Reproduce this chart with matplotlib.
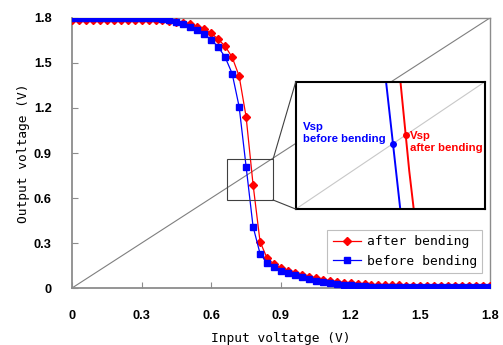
import numpy as np
import matplotlib
matplotlib.use("Agg")
import matplotlib.pyplot as plt
from matplotlib.patches import Rectangle
from matplotlib.lines import Line2D

# ---------------- data ----------------
vin = np.linspace(0, 1.8, 61)

before = [1.800, 1.800, 1.800, 1.800, 1.800, 1.800, 1.800, 1.800, 1.800, 1.800,
          1.800, 1.799, 1.798, 1.796, 1.787, 1.771, 1.760, 1.742, 1.720, 1.693,
          1.653, 1.607, 1.538, 1.429, 1.209, 0.810, 0.410, 0.230, 0.170, 0.140,
          0.115, 0.098, 0.085, 0.072, 0.060, 0.050, 0.042, 0.035, 0.028, 0.022,
          0.018, 0.015, 0.012, 0.010, 0.009, 0.008, 0.008, 0.007, 0.007, 0.007,
          0.006, 0.006, 0.006, 0.006, 0.005, 0.005, 0.005, 0.005, 0.005, 0.005,
          0.005]

after = [1.788, 1.788, 1.788, 1.788, 1.788, 1.788, 1.788, 1.788, 1.788, 1.788,
         1.788, 1.788, 1.787, 1.785, 1.781, 1.775, 1.769, 1.758, 1.742, 1.724,
         1.698, 1.658, 1.611, 1.538, 1.413, 1.142, 0.690, 0.310, 0.200, 0.160,
         0.135, 0.116, 0.100, 0.087, 0.075, 0.065, 0.056, 0.049, 0.042, 0.037,
         0.032, 0.028, 0.025, 0.022, 0.020, 0.019, 0.018, 0.018, 0.017, 0.017,
         0.017, 0.016, 0.016, 0.016, 0.016, 0.015, 0.015, 0.015, 0.015, 0.015,
         0.015]

ticks = [0, 0.3, 0.6, 0.9, 1.2, 1.5, 1.8]
tick_labels = ["0", "0.3", "0.6", "0.9", "1.2", "1.5", "1.8"]
series_labels = ["after bending", "before bending"]
inset_labels = ["Vsp\nbefore bending", "Vsp\nafter bending"]

zoom_x = (0.667, 0.866)
zoom_y = (0.587, 0.858)
inset_lim = (0.6, 0.9)


def vsp(x, y):
    x = np.asarray(x); y = np.asarray(y)
    d = y - x
    i = np.where((d[:-1] > 0) & (d[1:] <= 0))[0][0]
    t = d[i] / (d[i] - d[i + 1])
    return x[i] + t * (x[i + 1] - x[i])


RED = "#ff0000"
BLUE = "#0000ff"
GRAY = "#8c8c8c"
mono = "DejaVu Sans Mono"
tickfont = {"family": "Liberation Sans", "weight": "bold", "size": 9.2}

fig = plt.figure(figsize=(5.03, 3.45), dpi=100)
ax = fig.add_axes([0.143, 0.165, 0.831, 0.783])

ax.plot([0, 1.8], [0, 1.8], color="#7f7f7f", lw=0.8, zorder=1)
ax.plot(vin, after, color=RED, lw=0.9, marker="D", ms=4.2, mec=RED, mfc=RED,
        label=series_labels[0], zorder=3)
ax.plot(vin, before, color=BLUE, lw=0.9, marker="s", ms=4.6, mec=BLUE, mfc=BLUE,
        label=series_labels[1], zorder=4)

ax.set_xlim(0, 1.8)
ax.set_ylim(0, 1.8)
ax.set_xticks(ticks)
ax.set_yticks(ticks)
ax.set_xticklabels(tick_labels, fontdict=tickfont)
ax.set_yticklabels(tick_labels, fontdict=tickfont)
ax.tick_params(direction="in", length=4, width=0.8, color=GRAY, pad=14.5)
ax.tick_params(axis="x", pad=16)
for s in ax.spines.values():
    s.set_color(GRAY)
    s.set_linewidth(1.0)
for s in ("left", "bottom"):
    ax.spines[s].set_linewidth(1.3)

ax.set_xlabel("Input voltatge (V)", family=mono, fontsize=9.3, labelpad=7)
ax.set_ylabel("Output voltage (V)", family=mono, fontsize=9.3, labelpad=3)

leg = ax.legend(loc="lower right", bbox_to_anchor=(0.981, 0.055),
                prop={"family": mono, "size": 9.4}, frameon=True, fancybox=False,
                handlelength=2.2, handletextpad=0.4, borderpad=0.4,
                labelspacing=0.5, borderaxespad=0.0)
leg.get_frame().set_edgecolor("#b0b0b0")
leg.get_frame().set_linewidth(0.8)

# zoom rectangle
ax.add_patch(Rectangle((zoom_x[0], zoom_y[0]), zoom_x[1] - zoom_x[0],
                       zoom_y[1] - zoom_y[0], fill=False, ec="#404040",
                       lw=0.8, zorder=5))

# inset
ins = fig.add_axes([0.588, 0.394, 0.376, 0.369])
ins.set_facecolor("white")
ins.plot(inset_lim, inset_lim, color="#c8c8c8", lw=0.8)
ins.plot(vin, before, color=BLUE, lw=1.4)
ins.plot(vin, after, color=RED, lw=1.4)
vb = vsp(vin, before)
va = vsp(vin, after)
ins.plot([vb], [vb], "o", color=BLUE, ms=4)
ins.plot([va], [va], "o", color=RED, ms=4)
ins.set_xlim(*inset_lim)
ins.set_ylim(*inset_lim)
ins.set_xticks([])
ins.set_yticks([])
for s in ins.spines.values():
    s.set_color("black")
    s.set_linewidth(1.5)
ins.text(0.476, 0.685, inset_labels[0], transform=ins.transAxes, ha="right",
         va="top", multialignment="left", color=BLUE, fontsize=8.2,
         fontweight="bold", family="Liberation Sans", linespacing=1.3)
ins.text(0.605, 0.615, inset_labels[1], transform=ins.transAxes, ha="left",
         va="top", multialignment="left", color=RED, fontsize=8.2,
         fontweight="bold", family="Liberation Sans", linespacing=1.3)

# connector lines
fig.canvas.draw()
to_fig = fig.transFigure.inverted()
p1 = to_fig.transform(ax.transData.transform((zoom_x[1], zoom_y[1])))
p2 = to_fig.transform(ax.transData.transform((zoom_x[1], zoom_y[0])))
q1 = to_fig.transform(ins.transAxes.transform((0, 1)))
q2 = to_fig.transform(ins.transAxes.transform((0, 0)))
for p, q in ((p1, q1), (p2, q2)):
    fig.add_artist(Line2D([p[0], q[0]], [p[1], q[1]], color="#404040", lw=0.8,
                          transform=fig.transFigure))

fig.savefig("out.png", dpi=100)
